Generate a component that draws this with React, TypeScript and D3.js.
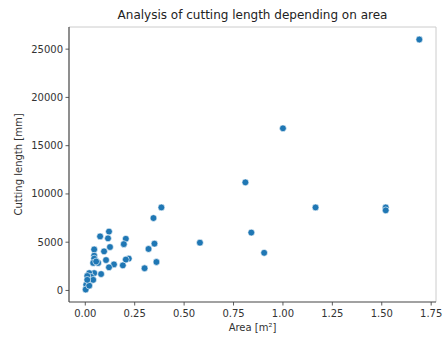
import React from "react";
import * as d3 from "d3";

const areaValues: number[] = [
  1.69, 1.0, 0.81, 1.165, 1.52, 1.52, 0.84, 0.905, 0.58,
  0.385, 0.345, 0.35, 0.32, 0.36, 0.3,
  0.12, 0.075, 0.115, 0.205, 0.195, 0.125, 0.045, 0.095, 0.045, 0.045,
  0.105, 0.22, 0.205, 0.145, 0.19, 0.12, 0.065, 0.04, 0.055,
  0.08, 0.045, 0.02, 0.03, 0.01, 0.025, 0.015, 0.005, 0.002, 0.02, 0.04, 0.01,
];
const lengthValues: number[] = [
  26000, 16800, 11200, 8600, 8600, 8300, 6000, 3900, 4950,
  8600, 7500, 4850, 4300, 2950, 2300,
  6100, 5600, 5400, 5350, 4800, 4500, 4250, 4050, 3600, 3300,
  3150, 3300, 3200, 2700, 2600, 2400, 2850, 2850, 3000,
  1700, 1800, 1800, 1400, 1500, 1000, 800, 600, 100, 500, 1100, 1100,
];
const xTicks: number[] = [0, 0.25, 0.5, 0.75, 1.0, 1.25, 1.5, 1.75];
const yTicks: number[] = [0, 5000, 10000, 15000, 20000, 25000];
const title = "Analysis of cutting length depending on area";
const xLabel = "Area [m²]";
const yLabel = "Cutting length [mm]";

export default function App() {
  const W = 444, H = 338;
  const left = 69, right = 436, top = 27, bottom = 302;
  const xMin = d3.min(areaValues)!, xMax = d3.max(areaValues)!;
  const yMin = d3.min(lengthValues)!, yMax = d3.max(lengthValues)!;
  const xPad = (xMax - xMin) * 0.05, yPad = (yMax - yMin) * 0.05;
  const x = d3.scaleLinear().domain([xMin - xPad, xMax + xPad]).range([left, right]);
  const y = d3.scaleLinear().domain([yMin - yPad, yMax + yPad]).range([bottom, top]);
  const font = "'DejaVu Sans', sans-serif";
  const tickColor = "#333";
  return (
    <svg width={W} height={H} style={{ position: "absolute", left: 0, top: 0, background: "#fff" }}>
      <text x={(left + right) / 2} y={19} textAnchor="middle" fontFamily={font} fontSize={12} fill="#222">{title}</text>
      {/* spines */}
      <line x1={left} x2={right} y1={top} y2={top} stroke="#ccc" strokeWidth={1} />
      <line x1={right} x2={right} y1={top} y2={bottom} stroke="#ccc" strokeWidth={1} />
      {xTicks.map((t) => (
        <g key={"x" + t}>
          <line x1={x(t)} x2={x(t)} y1={bottom} y2={bottom + 3.5} stroke={tickColor} strokeWidth={0.8} />
          <text x={x(t)} y={bottom + 15} textAnchor="middle" fontFamily={font} fontSize={10} fill="#333">{t.toFixed(2)}</text>
        </g>
      ))}
      {yTicks.map((t) => (
        <g key={"y" + t}>
          <line x1={left - 3.5} x2={left} y1={y(t)} y2={y(t)} stroke={tickColor} strokeWidth={0.8} />
          <text x={left - 6} y={y(t)} dy="0.35em" textAnchor="end" fontFamily={font} fontSize={10} fill="#333">{t}</text>
        </g>
      ))}
      <text x={(left + right) / 2} y={331} textAnchor="middle" fontFamily={font} fontSize={10} fill="#333">{xLabel}</text>
      <text transform={`translate(22,${(top + bottom) / 2}) rotate(-90)`} textAnchor="middle" fontFamily={font} fontSize={10} fill="#333">{yLabel}</text>
      {areaValues.map((a, i) => (
        <circle key={i} cx={x(a)} cy={y(lengthValues[i])} r={3.4} fill="#1f77b4" stroke="#fff" strokeWidth={0.6} />
      ))}
      <line x1={left} x2={left} y1={top} y2={bottom} stroke="#444" strokeWidth={1.2} />
      <line x1={left} x2={right} y1={bottom} y2={bottom} stroke="#444" strokeWidth={1.2} />
    </svg>
  );
}
